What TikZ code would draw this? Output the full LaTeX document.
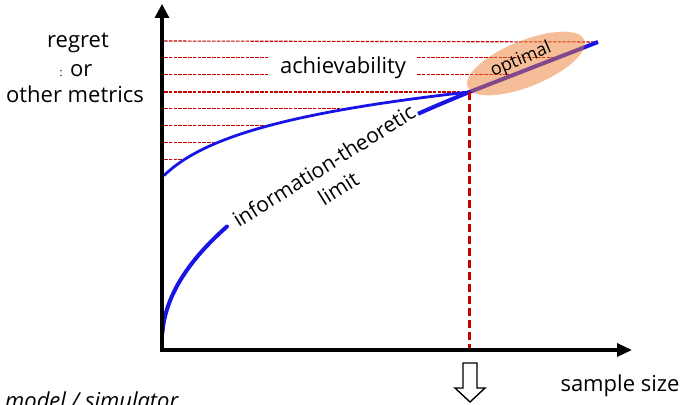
\documentclass[tikz,border=0pt]{standalone}
\usepackage{fontspec}
\setmainfont{Open Sans}
\usetikzlibrary{arrows.meta,shapes.geometric}
\definecolor{curveblue}{RGB}{25,20,230}
\definecolor{dashred}{RGB}{200,0,0}
\definecolor{optorange}{RGB}{237,125,49}
\begin{document}
\begin{tikzpicture}[x=1pt,y=-1pt,
  lbl/.style={font=\fontsize{22}{26}\selectfont, inner sep=0pt},
  axisline/.style={line width=3.2pt, line join=miter,
    {Triangle[length=14pt,width=14pt]}-{Triangle[length=15pt,width=13pt]}},
  gridline/.style={dashred, line width=1.1pt, dash pattern=on 3.5pt off 1.3pt},
  dropline/.style={dashred, line width=3pt, dash pattern=on 8pt off 4pt},
  boundthin/.style={curveblue, line width=2.8pt},
  boundthick/.style={curveblue, line width=4pt},
]
\useasboundingbox (0,0) rectangle (682,404);
\clip (0,0) rectangle (682,404);

% axes corner, tips and key points
\coordinate (O) at (162,350);
\coordinate (ytip) at (162,4);
\coordinate (xtip) at (632,350);
\coordinate (P) at (469,92);
\coordinate (E) at (598,42);
\coordinate (F) at (469,350);

% dashed levels of the achievable region
\draw[gridline] (164,41) -- (E);
\foreach \y/\xr in {57.9/560, 74.8/518}
  \draw[gridline] (164,\y) -- (268,\y) (417,\y) -- (\xr,\y);
\draw[gridline] (164,92) -- (P);
\foreach \y/\xr in {108.6/349, 125.5/269.4, 142.4/218, 159.3/185}
  \draw[gridline] (164,\y) -- (\xr,\y);

% achievable curve
\draw[boundthin] plot[domain=164:469, samples=90]
  (\x, {175.5-38.75*ln(1+(\x-164)/40)});

% information-theoretic limit, broken around its label
\draw[boundthick, line cap=round] plot[domain=162.3:227, samples=70]
  (\x, {341-14.2*sqrt(\x-162)});
\draw[boundthick] plot[domain=418:469, samples=20]
  (\x, {341-14.2*sqrt(\x-162)}) -- (E);

% optimal zone
\node[ellipse, fill=optorange, fill opacity=0.5, draw=none,
      minimum width=126pt, minimum height=46pt, inner sep=0pt,
      rotate=22] (optzone) at (526,63.5) {};
\node[font=\fontsize{18}{20}\selectfont, inner sep=0pt, rotate=23]
  (optlabel) at (521,60) {optimal};

% drop to the sample-size axis
\draw[dropline] (P) -- (F);

% axes
\draw[axisline] (ytip) -- (O) -- (xtip);

% hollow down arrow
\draw[line width=1.4pt, fill=white, line join=miter]
  (463,363) -- (477,363) -- (477,388) -- (485,388) -- (470,402)
  -- (455,388) -- (463,388) -- cycle;

% labels
\node[lbl, anchor=base] (regret) at (78,48) {regret};
\node[lbl, anchor=base] (orlbl) at (76,77) {{\fontsize{11}{11}\selectfont :} or};
\node[lbl, anchor=base] (metrics) at (75,102) {other metrics};
\node[lbl, anchor=base] (achv) at (343,73.5) {achievability};
\node[lbl, anchor=base] (xlabel) at (620,391) {sample size};
\node[lbl, anchor=base west, font=\fontsize{22}{26}\selectfont\itshape]
  (model) at (5,408) {model / simulator};
\node[lbl, align=center, rotate=32, font=\fontsize{21}{27}\selectfont]
  (itlimit) at (331,177) {information-theoretic\\limit};
\end{tikzpicture}
\end{document}
